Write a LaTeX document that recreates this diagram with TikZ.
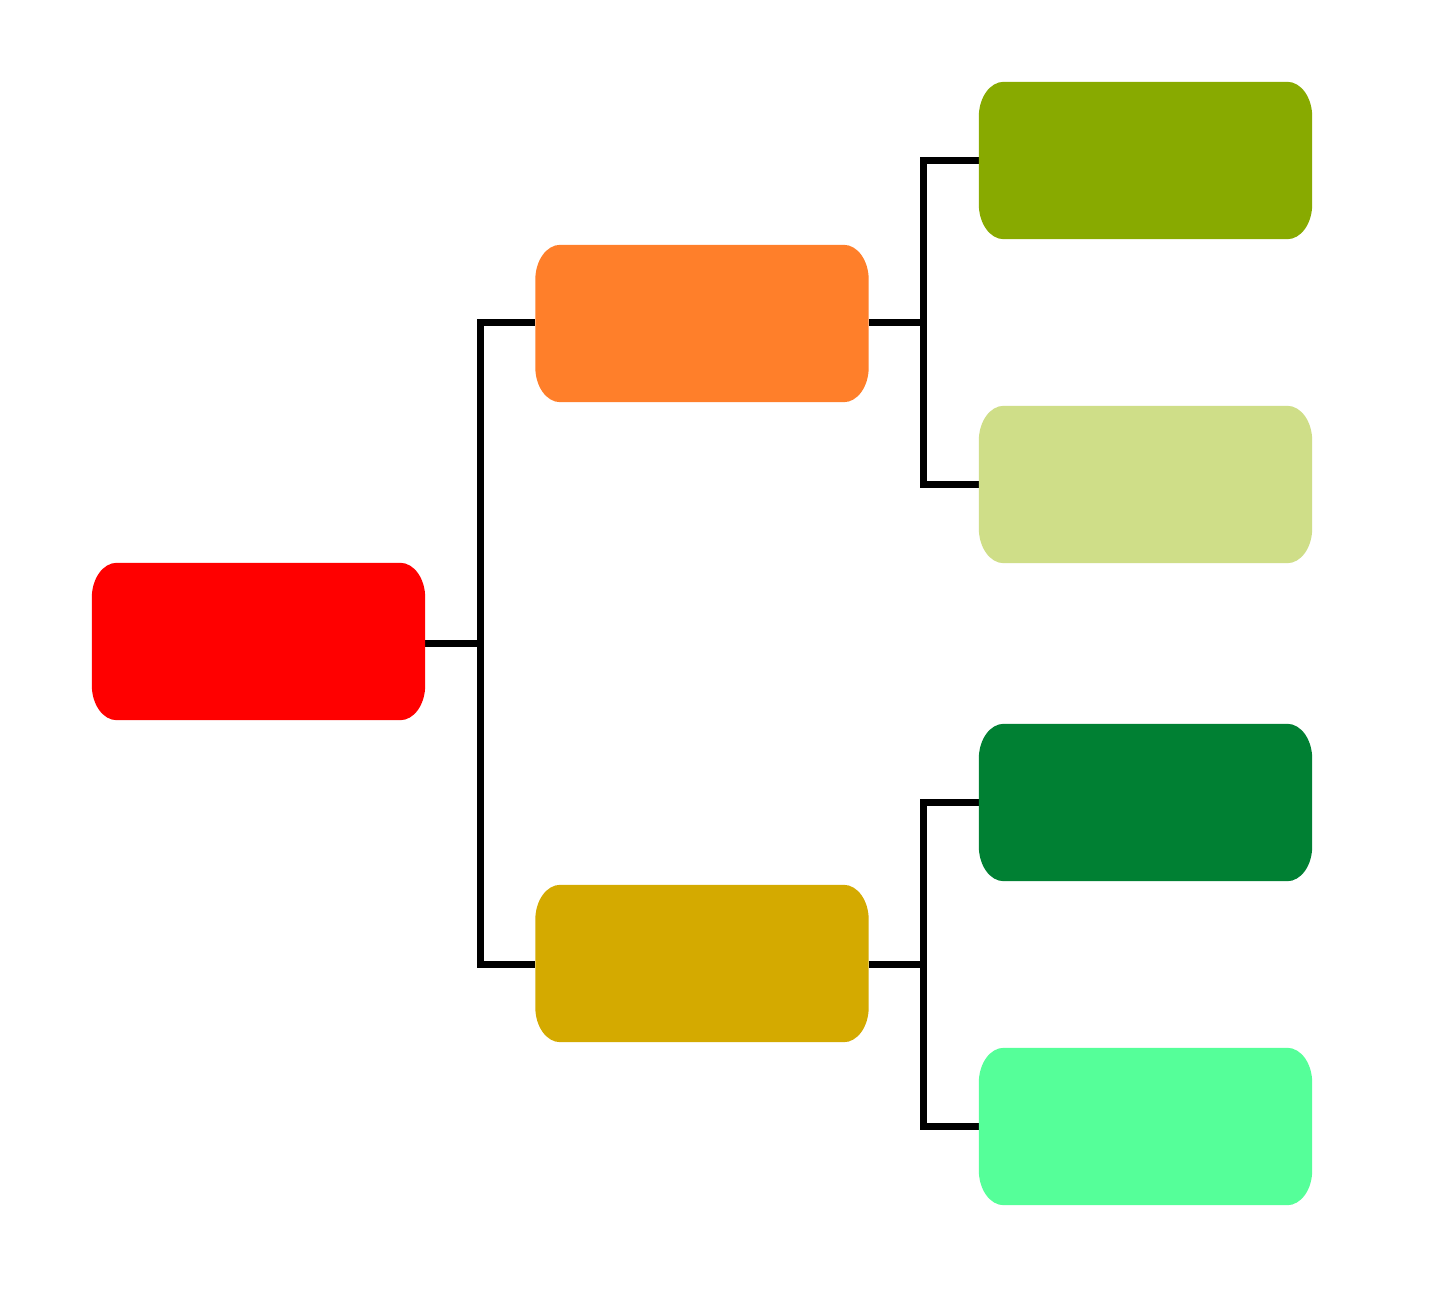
\documentclass[tikz,border=0pt]{standalone}
\begin{document}
\begin{tikzpicture}[x=1pt,y=-1pt,
  box/.style={rectangle,minimum width=333pt,minimum height=157pt,inner sep=0pt,draw=none},
  link/.style={line width=7pt,black}]
\useasboundingbox[fill=white] (0,0) rectangle (1456,1296);
\definecolor{cRed}{HTML}{FF0000}
\definecolor{cOrange}{HTML}{FF7F2A}
\definecolor{cGold}{HTML}{D4AA00}
\definecolor{cOlive}{HTML}{88AA00}
\definecolor{cLight}{HTML}{CFDE88}
\definecolor{cDark}{HTML}{008033}
\definecolor{cMint}{HTML}{55FF99}
\newcommand\efill[2]{%
  \fill[#2] ([xshift=25pt]#1.north west) -- ([xshift=-25pt]#1.north east)
    arc[start angle=90,end angle=0,x radius=25pt,y radius=35pt]
    -- ([yshift=35pt]#1.south east)
    arc[start angle=0,end angle=-90,x radius=25pt,y radius=35pt]
    -- ([xshift=25pt]#1.south west)
    arc[start angle=-90,end angle=-180,x radius=25pt,y radius=35pt]
    -- ([yshift=-35pt]#1.north west)
    arc[start angle=180,end angle=90,x radius=25pt,y radius=35pt] -- cycle;}
\coordinate (j1) at (480.5,643.5);
\coordinate (j2) at (923,322);
\coordinate (j3) at (923,964);
\node[box] (r) at (258.5,641.5) {};
\node[box] (o) at (702,323.5) {};
\node[box] (g) at (702,963.5) {};
\node[box] (a) at (1145.5,160.5) {};
\node[box] (b) at (1145.5,484.5) {};
\node[box] (c) at (1145.5,802.5) {};
\node[box] (d) at (1145.5,1126.5) {};
\draw[link] (r.east |- j1) -- (j1);
\draw[link] (j1) |- (o.west |- j2);
\draw[link] (j1) |- (g.west |- j3);
\draw[link] (o.east |- j2) -- (j2);
\draw[link] (j2) |- (a.west);
\draw[link] (j2) |- (b.west);
\draw[link] (g.east |- j3) -- (j3);
\draw[link] (j3) |- (c.west);
\draw[link] (j3) |- (d.west);
\efill{r}{cRed}
\efill{o}{cOrange}
\efill{g}{cGold}
\efill{a}{cOlive}
\efill{b}{cLight}
\efill{c}{cDark}
\efill{d}{cMint}
\end{tikzpicture}
\end{document}
